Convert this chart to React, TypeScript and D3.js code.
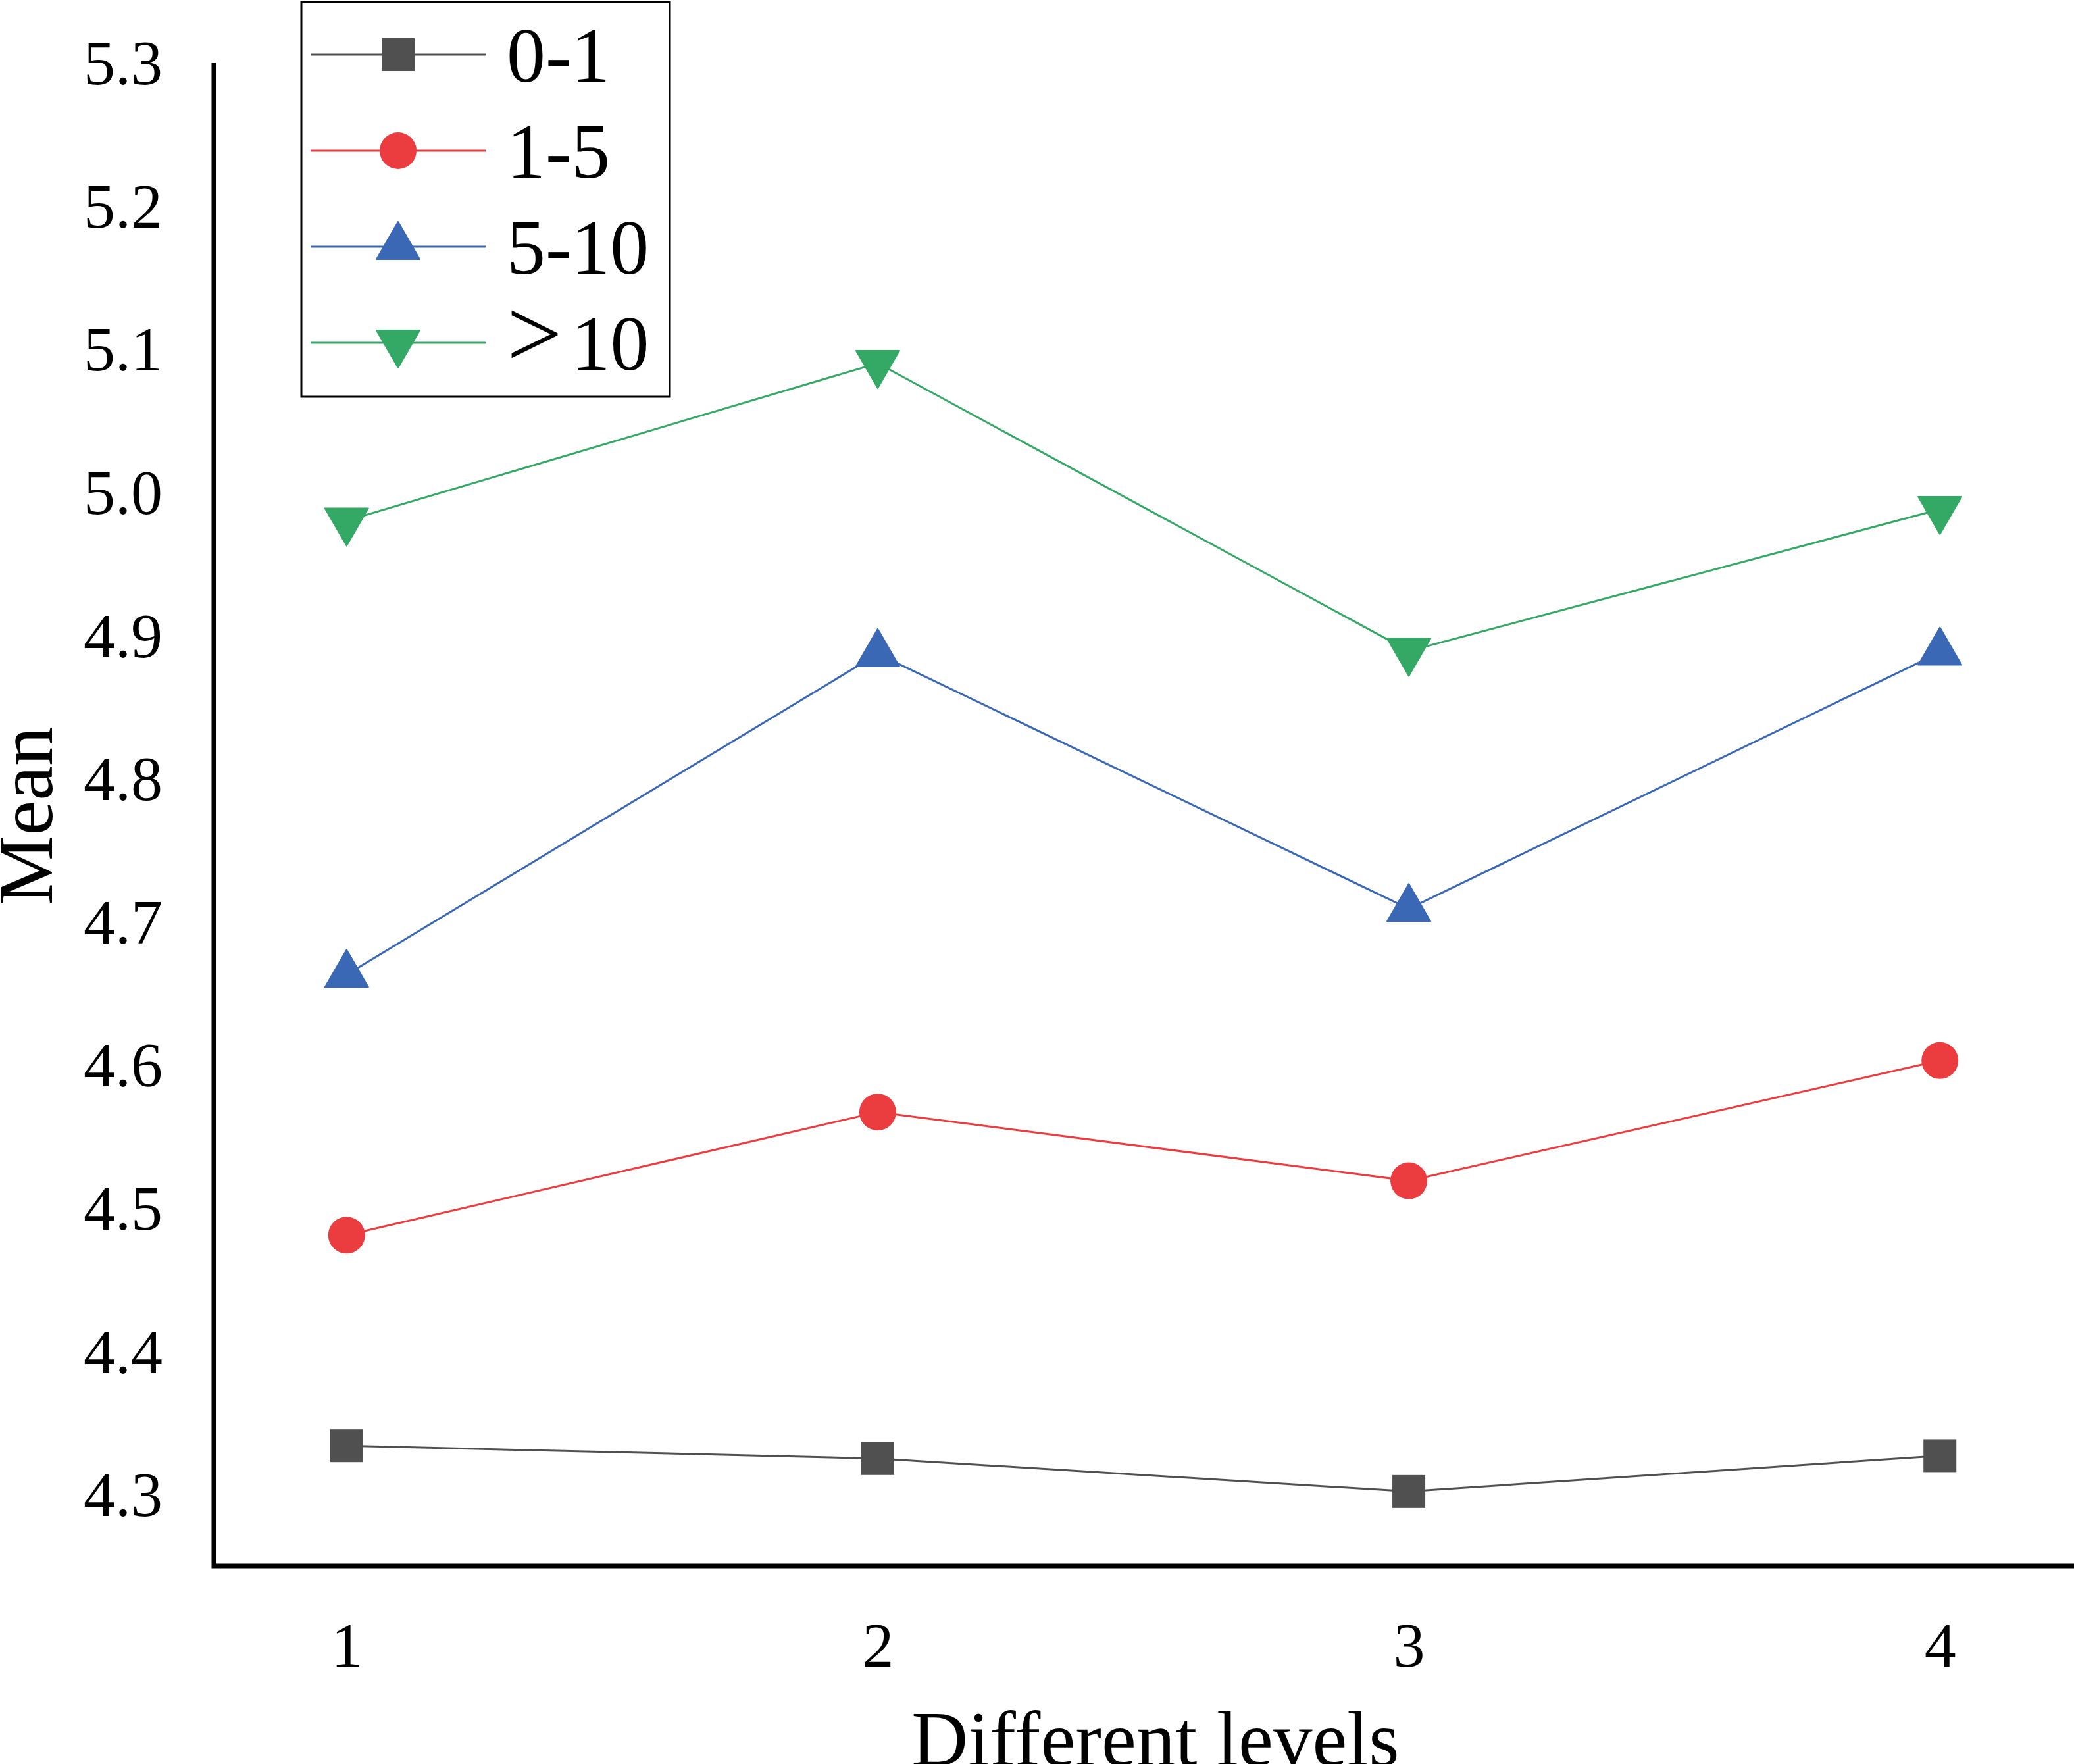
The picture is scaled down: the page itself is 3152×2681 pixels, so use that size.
import React, { useEffect, useRef } from 'react';
import * as d3 from 'd3';

// x categories and y ticks
const levels = [1, 2, 3, 4];
const yTicks = [4.3, 4.4, 4.5, 4.6, 4.7, 4.8, 4.9, 5.0, 5.1, 5.2, 5.3];

// series values
const seriesNames = ['0-1', '1-5', '5-10', '>10'];
const group01 = [4.334, 4.325, 4.302, 4.327];
const group15 = [4.481, 4.567, 4.519, 4.603];
const group510 = [4.663, 4.887, 4.709, 4.888];
const group10plus = [4.98, 5.09, 4.889, 4.988];

type Marker = 'square' | 'circle' | 'triangle-up' | 'triangle-down';

interface Series {
  name: string;
  values: number[];
  color: string;
  marker: Marker;
}

const series: Series[] = [
  { name: seriesNames[0], values: group01, color: '#505050', marker: 'square' },
  { name: seriesNames[1], values: group15, color: '#EB3C3F', marker: 'circle' },
  { name: seriesNames[2], values: group510, color: '#3A68B4', marker: 'triangle-up' },
  { name: seriesNames[3], values: group10plus, color: '#34A865', marker: 'triangle-down' },
];

const FONT = '"Liberation Serif", "Times New Roman", serif';

const App: React.FC = () => {
  const svgRef = useRef<SVGSVGElement>(null);

  useEffect(() => {
    if (!svgRef.current) return;
    const svg = d3.select(svgRef.current);
    svg.selectAll('*').remove();

    const width = 3152;
    const height = 2681;
    const axisX = 325;
    const axisY = 2380;

    // scales
    const x = d3.scaleLinear().domain([0.75, 4.25]).range([axisX, 3150]);
    const y = d3.scaleLinear().domain([4.25, 5.3]).range([axisY, 95]);

    svg.append('rect').attr('width', width).attr('height', height).attr('fill', '#fff');

    // marker drawing helper
    const drawMarker = (
      g: d3.Selection<SVGGElement, unknown, null, undefined>,
      cx: number,
      cy: number,
      m: Marker,
      color: string
    ) => {
      const tw = 66;
      const th = 57;
      if (m === 'square') {
        g.append('rect')
          .attr('x', cx - 25)
          .attr('y', cy - 25)
          .attr('width', 50)
          .attr('height', 50)
          .attr('fill', color);
      } else if (m === 'circle') {
        g.append('circle').attr('cx', cx).attr('cy', cy).attr('r', 28).attr('fill', color);
      } else if (m === 'triangle-up') {
        const top = cy - (th * 2) / 3;
        const base = cy + th / 3;
        g.append('path')
          .attr('d', `M${cx},${top}L${cx + tw / 2},${base}L${cx - tw / 2},${base}Z`)
          .attr('fill', color)
          .attr('stroke', color)
          .attr('stroke-width', 2)
          .attr('stroke-linejoin', 'round');
      } else {
        const top = cy - th / 3;
        const tip = cy + (th * 2) / 3;
        g.append('path')
          .attr('d', `M${cx - tw / 2},${top}L${cx + tw / 2},${top}L${cx},${tip}Z`)
          .attr('fill', color)
          .attr('stroke', color)
          .attr('stroke-width', 2)
          .attr('stroke-linejoin', 'round');
      }
    };

    // y tick labels
    const yAxis = d3
      .axisLeft(y)
      .tickValues(yTicks)
      .tickSize(0)
      .tickPadding(78)
      .tickFormat(d3.format('.1f'));
    const yG = svg.append('g').attr('transform', `translate(${axisX},0)`).call(yAxis);
    yG.select('.domain').remove();
    yG.selectAll('text')
      .attr('font-family', FONT)
      .attr('font-size', 96)
      .attr('fill', '#000')
      .attr('dy', '0.34em');

    // x tick labels
    const xAxis = d3
      .axisBottom(x)
      .tickValues(levels)
      .tickSize(0)
      .tickPadding(85)
      .tickFormat(d3.format('d'));
    const xG = svg.append('g').attr('transform', `translate(0,${axisY})`).call(xAxis);
    xG.select('.domain').remove();
    xG.selectAll('text')
      .attr('font-family', FONT)
      .attr('font-size', 96)
      .attr('fill', '#000')
      .attr('dy', '0.71em');

    // axis lines
    svg.append('path')
      .attr('d', `M${axisX},${y(5.3)}V${axisY}H${width}`)
      .attr('fill', 'none')
      .attr('stroke', '#000')
      .attr('stroke-width', 7)
      .attr('stroke-linejoin', 'miter');

    // series lines and markers
    const line = d3
      .line<number>()
      .x((_, i) => x(levels[i]))
      .y(d => y(d));

    series.forEach(s => {
      svg.append('path')
        .datum(s.values)
        .attr('d', line)
        .attr('fill', 'none')
        .attr('stroke', s.color)
        .attr('stroke-width', 3);
      const mg = svg.append('g');
      s.values.forEach((v, i) => drawMarker(mg, x(levels[i]), y(v), s.marker, s.color));
    });

    // axis titles
    svg.append('text')
      .attr('x', 1756)
      .attr('y', 2683)
      .attr('text-anchor', 'middle')
      .attr('font-family', FONT)
      .attr('font-size', 119)
      .text('Different levels');

    svg.append('text')
      .attr('transform', `translate(79,1240) rotate(-90)`)
      .attr('text-anchor', 'middle')
      .attr('font-family', FONT)
      .attr('font-size', 119)
      .text('Mean');

    // legend
    const legend = svg.append('g');
    legend.append('rect')
      .attr('x', 458)
      .attr('y', 3)
      .attr('width', 560)
      .attr('height', 600)
      .attr('fill', '#fff')
      .attr('stroke', '#000')
      .attr('stroke-width', 3);

    const rowY = [83, 229, 375, 521];
    series.forEach((s, i) => {
      const cy = rowY[i];
      legend.append('line')
        .attr('x1', 472)
        .attr('x2', 738)
        .attr('y1', cy)
        .attr('y2', cy)
        .attr('stroke', s.color)
        .attr('stroke-width', 3);
      drawMarker(legend, 605, cy, s.marker, s.color);
      const t = legend.append('text')
        .attr('x', 770)
        .attr('y', cy + 41)
        .attr('font-family', FONT)
        .attr('font-size', 118);
      if (s.name.startsWith('>')) {
        // the ">" sign is drawn larger than the digits, as in the reference
        t.append('tspan').attr('font-size', 150).attr('dy', -4).text('>');
        t.append('tspan').attr('dx', 14).attr('dy', 4).text(s.name.slice(1));
      } else {
        t.text(s.name);
      }
    });
  }, []);

  return (
    <svg
      ref={svgRef}
      width={3152}
      height={2681}
      style={{ position: 'absolute', left: 0, top: 0, display: 'block' }}
    />
  );
};

export default App;
